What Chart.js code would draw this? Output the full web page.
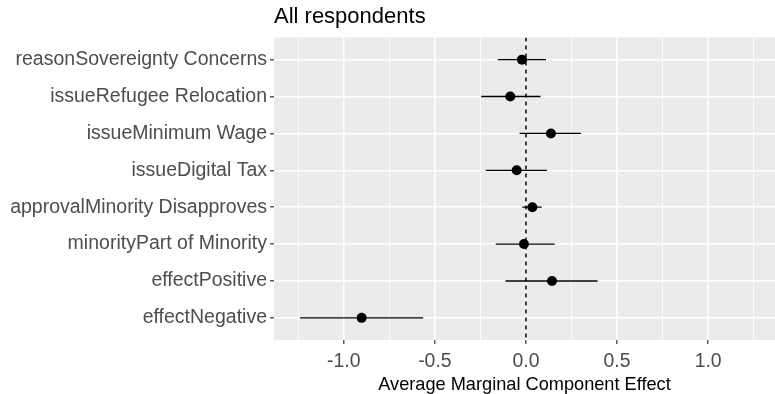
<!DOCTYPE html>
<html>
<head>
<meta charset="utf-8">
<script src="https://cdn.jsdelivr.net/npm/chart.js@4"></script>
<style>
  body { margin: 0; background: #ffffff; }
  #chart { display: block; }
</style>
</head>
<body>
<canvas id="chart" width="775" height="394" style="width:775px;height:394px"></canvas>
<script>
// Categories, top to bottom as shown
const categories = [
    "reasonSovereignty Concerns",
    "issueRefugee Relocation",
    "issueMinimum Wage",
    "issueDigital Tax",
    "approvalMinority Disapproves",
    "minorityPart of Minority",
    "effectPositive",
    "effectNegative"
];

// AMCE estimates and confidence bounds
const estimates = [-0.022, -0.086, 0.137, -0.051, 0.035, -0.011, 0.143, -0.902];
const lower = [-0.154, -0.245, -0.035, -0.221, -0.020, -0.166, -0.112, -1.240];
const upper = [0.110, 0.080, 0.302, 0.115, 0.086, 0.157, 0.393, -0.564];

// X axis ticks
const xMajorTicks = [-1.0, -0.5, 0.0, 0.5, 1.0];
const xMinorTicks = [-1.25, -0.75, -0.25, 0.25, 0.75, 1.25];

const FONT = "'Liberation Sans', Arial, sans-serif";

function isMajor(v) {
    return xMajorTicks.some(m => Math.abs(m - v) < 1e-9);
}

// Grey panel background
const panelBackground = {
    id: "panelBackground",
    beforeDraw(chart) {
        const { ctx, chartArea } = chart;
        ctx.save();
        ctx.fillStyle = "#EBEBEB";
        ctx.fillRect(chartArea.left, chartArea.top, chartArea.right - chartArea.left, chartArea.bottom - chartArea.top);
        ctx.restore();
    }
};

// Build datasets
const datasets = [];

datasets.push({
    label: "estimate",
    data: estimates.map((v, i) => ({ x: v, y: i + 1 })),
    backgroundColor: "#000000",
    borderWidth: 0,
    pointRadius: 5,
    order: 0
});

categories.forEach((c, i) => {
    datasets.push({
        label: "ci " + c,
        data: [{ x: lower[i], y: i + 1 }, { x: upper[i], y: i + 1 }],
        showLine: true,
        borderColor: "#000000",
        borderWidth: 1.3,
        pointRadius: 0,
        order: 2
    });
});

datasets.push({
    label: "zero",
    data: [{ x: 0, y: 0.4 }, { x: 0, y: 8.6 }],
    showLine: true,
    borderColor: "#000000",
    borderWidth: 1.5,
    borderDash: [4, 4],
    pointRadius: 0,
    order: 1
});

new Chart(document.getElementById("chart"), {
    type: "scatter",
    data: { datasets: datasets },
    options: {
        responsive: false,
        devicePixelRatio: 1,
        animation: false,
        layout: { padding: 0, autoPadding: false },
        plugins: {
            legend: { display: false },
            tooltip: { enabled: false },
            title: {
                display: true,
                text: "All respondents",
                align: "start",
                fullSize: false,
                color: "#000000",
                font: { family: FONT, size: 22, weight: "normal" },
                padding: { top: 3.5, bottom: 7.6 }
            }
        },
        scales: {
            x: {
                type: "linear",
                min: -1.383,
                max: 1.367,
                afterBuildTicks(scale) {
                    scale.ticks = xMinorTicks.concat(xMajorTicks).sort((a, b) => a - b).map(v => ({ value: v }));
                },
                afterFit(scale) {
                    scale.height = 54;
                    scale.paddingLeft = 0;
                    scale.paddingRight = 0;
                },
                border: { display: false },
                grid: {
                    color: "#FFFFFF",
                    lineWidth: ctx => (isMajor(ctx.tick.value) ? 1.6 : 0.8),
                    tickColor: ctx => (isMajor(ctx.tick.value) ? "#333333" : "rgba(0,0,0,0)"),
                    tickLength: 4,
                    tickWidth: 1.2
                },
                ticks: {
                    autoSkip: false,
                    maxRotation: 0,
                    color: "#4D4D4D",
                    font: { family: FONT, size: 19.4 },
                    padding: 6,
                    callback: v => (isMajor(v) ? v.toFixed(1) : "")
                },
                title: {
                    display: true,
                    text: "Average Marginal Component Effect",
                    color: "#000000",
                    font: { family: FONT, size: 18.2, lineHeight: 1 },
                    padding: { top: 0, bottom: 0 }
                }
            },
            y: {
                type: "linear",
                min: 0.4,
                max: 8.6,
                reverse: true,
                afterBuildTicks(scale) {
                    scale.ticks = categories.map((c, i) => ({ value: i + 1 }));
                },
                afterFit(scale) {
                    scale.width = 274;
                    scale.paddingTop = 0;
                    scale.paddingBottom = 0;
                },
                border: { display: false },
                grid: {
                    color: "#FFFFFF",
                    lineWidth: 1.6,
                    tickColor: "#333333",
                    tickLength: 4,
                    tickWidth: 1.2
                },
                ticks: {
                    autoSkip: false,
                    color: "#4D4D4D",
                    font: { family: FONT, size: 19.5 },
                    padding: 3,
                    callback: v => categories[v - 1]
                }
            }
        }
    },
    plugins: [panelBackground]
});
</script>
</body>
</html>
